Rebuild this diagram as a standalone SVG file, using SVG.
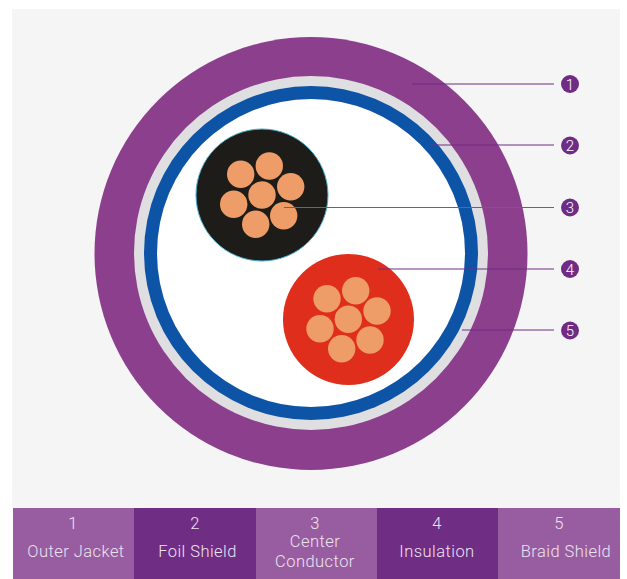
<svg xmlns="http://www.w3.org/2000/svg" width="627" height="579" viewBox="0 0 627 579">
<style>
.s{fill:#ee9d68}
.l{stroke:#702c85;stroke-width:1;fill:none}
.m{stroke:#8a4a9e}
.b{fill:#702c85}
.n{font-family:"Roboto","Liberation Sans",sans-serif;font-weight:300;font-size:15px;fill:#fff;text-anchor:middle}
.t{font-family:"Roboto","Liberation Sans",sans-serif;font-weight:300;font-size:16.5px;letter-spacing:.45px;fill:#ece3f0;text-anchor:middle}
.a{fill:#985da0}.d{fill:#702d84}
</style>
<rect width="627" height="579" fill="#fff"/>
<rect x="12" y="9" width="608" height="499" fill="#f5f5f5"/>
<g id="cable">
<circle cx="311" cy="253.5" r="216.5" fill="#8c3f8c"/>
<circle cx="311" cy="253" r="177" fill="#dfdfe2"/>
<circle cx="311" cy="253" r="167" fill="#0d54a7"/>
<circle cx="311" cy="253" r="154" fill="#fff"/>
</g>
<g id="wire-black">
<circle cx="262" cy="195" r="66" fill="#1e1c18" stroke="#4cb2cf" stroke-width="1"/>
<circle class="s" cx="240.7" cy="174.3" r="13.7"/><circle class="s" cx="269.3" cy="166" r="13.7"/><circle class="s" cx="290.7" cy="186.7" r="13.7"/><circle class="s" cx="262" cy="195" r="13.7"/><circle class="s" cx="233.7" cy="204.3" r="13.7"/><circle class="s" cx="283.7" cy="215.7" r="13.7"/><circle class="s" cx="255.7" cy="224.3" r="13.7"/>
</g>
<g id="wire-red">
<circle cx="348.5" cy="319.5" r="65.5" fill="#df2e1b"/>
<circle class="s" cx="327" cy="298.7" r="13.7"/><circle class="s" cx="355.7" cy="290.7" r="13.7"/><circle class="s" cx="377" cy="311" r="13.7"/><circle class="s" cx="348.3" cy="319.3" r="13.7"/><circle class="s" cx="320" cy="328.7" r="13.7"/><circle class="s" cx="370" cy="340" r="13.7"/><circle class="s" cx="341.7" cy="348.7" r="13.7"/>
</g>
<g id="connectors">
<line class="l" x1="412" y1="84" x2="554" y2="84"/>
<line class="l" x1="432" y1="145" x2="554" y2="145"/>
<line class="l m" x1="284" y1="207.5" x2="554" y2="207.5"/>
<line class="l" x1="378" y1="269" x2="554" y2="269"/>
<line class="l" x1="462" y1="330" x2="554" y2="330"/>
</g>
<g id="badge-1"><circle class="b" cx="570" cy="84" r="9"/><text class="n" x="570" y="89.5">1</text></g>
<g id="badge-2"><circle class="b" cx="570" cy="145.5" r="9"/><text class="n" x="570" y="151">2</text></g>
<g id="badge-3"><circle class="b" cx="570" cy="207.5" r="9"/><text class="n" x="570" y="213">3</text></g>
<g id="badge-4"><circle class="b" cx="570" cy="269" r="9"/><text class="n" x="570" y="274.5">4</text></g>
<g id="badge-5"><circle class="b" cx="570" cy="330.5" r="9"/><text class="n" x="570" y="336">5</text></g>
<g id="legend-1"><rect class="a" x="13" y="508" width="121" height="71"/><text class="t" x="73" y="528.5">1</text><text class="t" x="76" y="557">Outer Jacket</text></g>
<g id="legend-2"><rect class="d" x="134" y="508" width="122" height="71"/><text class="t" x="195" y="528.5">2</text><text class="t" x="197.5" y="557">Foil Shield</text></g>
<g id="legend-3"><rect class="a" x="256" y="508" width="121" height="71"/><text class="t" x="315" y="528.5">3</text><text class="t" x="315" y="547">Center</text><text class="t" x="315" y="566.5">Conductor</text></g>
<g id="legend-4"><rect class="d" x="377" y="508" width="121" height="71"/><text class="t" x="437" y="528.5">4</text><text class="t" x="437" y="557">Insulation</text></g>
<g id="legend-5"><rect class="a" x="498" y="508" width="122" height="71"/><text class="t" x="559" y="528.5">5</text><text class="t" x="566" y="557">Braid Shield</text></g>
</svg>
